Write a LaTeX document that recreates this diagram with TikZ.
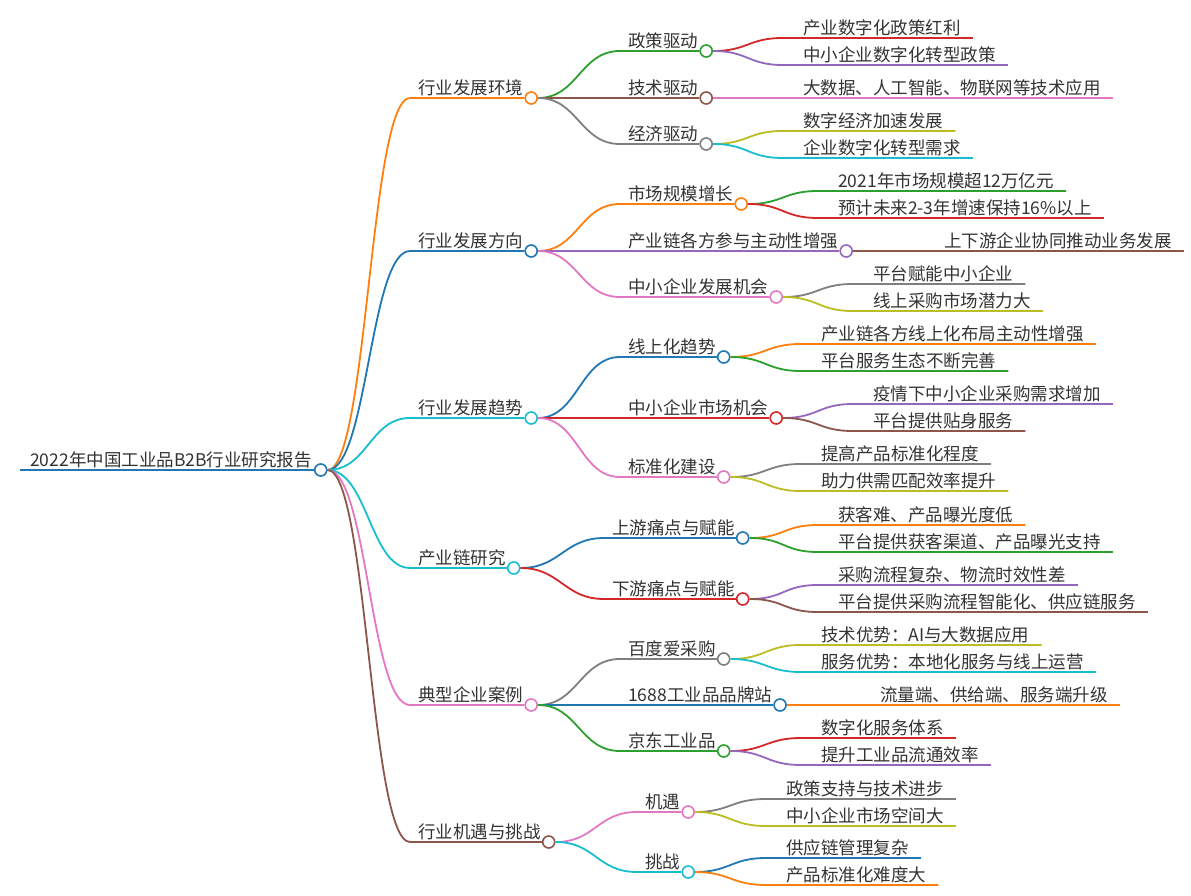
\documentclass[tikz,border=0pt]{standalone}
\usepackage{fontspec}
\setmainfont{Noto Sans CJK SC}
\usepackage{tikz}
\usetikzlibrary{positioning}
\definecolor{cBlue}{HTML}{1F77B4}
\definecolor{cOrange}{HTML}{FF7F0E}
\definecolor{cGreen}{HTML}{2CA02C}
\definecolor{cRed}{HTML}{D62728}
\definecolor{cPurple}{HTML}{9467BD}
\definecolor{cBrown}{HTML}{8C564B}
\definecolor{cPink}{HTML}{E377C2}
\definecolor{cGray}{HTML}{7F7F7F}
\definecolor{cOlive}{HTML}{BCBD22}
\definecolor{cCyan}{HTML}{17BECF}
\definecolor{inkGray}{HTML}{333333}

\begin{document}
\begin{tikzpicture}[
  x=1pt, y=-1pt,
  txt/.style={anchor=south west, inner xsep=0pt, inner ysep=1.5pt, text=inkGray, font=\fontsize{17.5}{20}\selectfont},
  knob/.style={circle, draw=#1, fill=white, line width=1.6pt, minimum size=12pt, inner sep=0pt},
  link/.style={draw=#1, line width=1.8pt},
  sbend/.style={to path={.. controls +(#1,0) and +(-#1,0) .. (\tikztotarget)}},
  sbend/.default=40
]
  \useasboundingbox (0,0) rectangle (1191,896);

  % root
  \node[txt] (t-root) at (30,470) {2022年中国工业品B2B行业研究报告};
  \node[knob=cBlue, right=2pt of t-root.south east] (d-root) {};
  \draw[link=cBlue] ([xshift=-10pt]t-root.south west) -- (d-root.west);

  % first level
  \node[txt] (t-env) at (418,98) {行业发展环境};
  \node[txt] (t-dir) at (418,251) {行业发展方向};
  \node[txt] (t-trend) at (418,418) {行业发展趋势};
  \node[txt] (t-chain) at (418,568) {产业链研究};
  \node[txt] (t-case) at (418,705) {典型企业案例};
  \node[txt] (t-opp) at (418,842) {行业机遇与挑战};
  \node[knob=cOrange, right=1pt of t-env.south east] (d-env) {};
  \node[knob=cBlue, right=1pt of t-dir.south east] (d-dir) {};
  \node[knob=cCyan, right=1pt of t-trend.south east] (d-trend) {};
  \node[knob=cCyan, right=1pt of t-chain.south east] (d-chain) {};
  \node[knob=cPink, right=1pt of t-case.south east] (d-case) {};
  \node[knob=cBrown, right=1pt of t-opp.south east] (d-opp) {};

  \draw[link=cOrange] (d-root.east) to[sbend] ([xshift=-8pt]t-env.south west) -- (d-env.west);
  \draw[link=cBlue] (d-root.east) to[sbend] ([xshift=-8pt]t-dir.south west) -- (d-dir.west);
  \draw[link=cCyan] (d-root.east) to[sbend] ([xshift=-8pt]t-trend.south west) -- (d-trend.west);
  \draw[link=cCyan] (d-root.east) to[sbend] ([xshift=-8pt]t-chain.south west) -- (d-chain.west);
  \draw[link=cPink] (d-root.east) to[sbend] ([xshift=-8pt]t-case.south west) -- (d-case.west);
  \draw[link=cBrown] (d-root.east) to[sbend] ([xshift=-8pt]t-opp.south west) -- (d-opp.west);

  % second level
  \node[txt] (t-pol) at (628,51) {政策驱动};
  \node[txt] (t-tech) at (628,98) {技术驱动};
  \node[txt] (t-eco) at (628,144) {经济驱动};
  \node[txt] (t-scale) at (628,204) {市场规模增长};
  \node[txt] (t-part) at (628,251) {产业链各方参与主动性增强};
  \node[txt] (t-sme) at (628,297) {中小企业发展机会};
  \node[txt] (t-online) at (628,357) {线上化趋势};
  \node[txt] (t-smem) at (628,418) {中小企业市场机会};
  \node[txt] (t-std) at (628,477) {标准化建设};
  \node[txt] (t-up) at (612,538) {上游痛点与赋能};
  \node[txt] (t-down) at (612,599) {下游痛点与赋能};
  \node[txt] (t-baidu) at (628,659) {百度爱采购};
  \node[txt] (t-ali) at (628,705) {1688工业品品牌站};
  \node[txt] (t-jd) at (628,751) {京东工业品};
  \node[txt] (t-chance) at (645,812) {机遇};
  \node[txt] (t-risk) at (645,872) {挑战};
  \node[knob=cGreen, right=1pt of t-pol.south east] (d-pol) {};
  \node[knob=cBrown, right=1pt of t-tech.south east] (d-tech) {};
  \node[knob=cGray, right=1pt of t-eco.south east] (d-eco) {};
  \node[knob=cOrange, right=1pt of t-scale.south east] (d-scale) {};
  \node[knob=cPurple, right=1pt of t-part.south east] (d-part) {};
  \node[knob=cPink, right=1pt of t-sme.south east] (d-sme) {};
  \node[knob=cBlue, right=1pt of t-online.south east] (d-online) {};
  \node[knob=cRed, right=1pt of t-smem.south east] (d-smem) {};
  \node[knob=cPink, right=1pt of t-std.south east] (d-std) {};
  \node[knob=cBlue, right=1pt of t-up.south east] (d-up) {};
  \node[knob=cRed, right=1pt of t-down.south east] (d-down) {};
  \node[knob=cGray, right=1pt of t-baidu.south east] (d-baidu) {};
  \node[knob=cBlue, right=1pt of t-ali.south east] (d-ali) {};
  \node[knob=cGreen, right=1pt of t-jd.south east] (d-jd) {};
  \node[knob=cPink, right=1pt of t-chance.south east] (d-chance) {};
  \node[knob=cCyan, right=1pt of t-risk.south east] (d-risk) {};

  \draw[link=cGreen] (d-env.east) to[sbend] ([xshift=-8pt]t-pol.south west) -- (d-pol.west);
  \draw[link=cBrown] (d-env.east) to[sbend] ([xshift=-8pt]t-tech.south west) -- (d-tech.west);
  \draw[link=cGray] (d-env.east) to[sbend] ([xshift=-8pt]t-eco.south west) -- (d-eco.west);
  \draw[link=cOrange] (d-dir.east) to[sbend] ([xshift=-8pt]t-scale.south west) -- (d-scale.west);
  \draw[link=cPurple] (d-dir.east) to[sbend] ([xshift=-8pt]t-part.south west) -- (d-part.west);
  \draw[link=cPink] (d-dir.east) to[sbend] ([xshift=-8pt]t-sme.south west) -- (d-sme.west);
  \draw[link=cBlue] (d-trend.east) to[sbend] ([xshift=-8pt]t-online.south west) -- (d-online.west);
  \draw[link=cRed] (d-trend.east) to[sbend] ([xshift=-8pt]t-smem.south west) -- (d-smem.west);
  \draw[link=cPink] (d-trend.east) to[sbend] ([xshift=-8pt]t-std.south west) -- (d-std.west);
  \draw[link=cBlue] (d-chain.east) to[sbend] ([xshift=-8pt]t-up.south west) -- (d-up.west);
  \draw[link=cRed] (d-chain.east) to[sbend] ([xshift=-8pt]t-down.south west) -- (d-down.west);
  \draw[link=cGray] (d-case.east) to[sbend] ([xshift=-8pt]t-baidu.south west) -- (d-baidu.west);
  \draw[link=cBlue] (d-case.east) to[sbend] ([xshift=-8pt]t-ali.south west) -- (d-ali.west);
  \draw[link=cGreen] (d-case.east) to[sbend] ([xshift=-8pt]t-jd.south west) -- (d-jd.west);
  \draw[link=cPink] (d-opp.east) to[sbend] ([xshift=-8pt]t-chance.south west) -- (d-chance.west);
  \draw[link=cCyan] (d-opp.east) to[sbend] ([xshift=-8pt]t-risk.south west) -- (d-risk.west);

  % leaves
  \node[txt] (l-pol1) at (803,38) {产业数字化政策红利};
  \node[txt] (l-pol2) at (803,65) {中小企业数字化转型政策};
  \node[txt] (l-tech1) at (803,98) {大数据、人工智能、物联网等技术应用};
  \node[txt] (l-eco1) at (803,131) {数字经济加速发展};
  \node[txt] (l-eco2) at (803,158) {企业数字化转型需求};
  \node[txt] (l-scale1) at (838,191) {2021年市场规模超12万亿元};
  \node[txt] (l-scale2) at (838,218) {预计未来2-3年增速保持16\%以上};
  \node[txt] (l-part1) at (944,251) {上下游企业协同推动业务发展};
  \node[txt] (l-sme1) at (873,284) {平台赋能中小企业};
  \node[txt] (l-sme2) at (873,311) {线上采购市场潜力大};
  \node[txt] (l-online1) at (821,344) {产业链各方线上化布局主动性增强};
  \node[txt] (l-online2) at (821,371) {平台服务生态不断完善};
  \node[txt] (l-smem1) at (873,404) {疫情下中小企业采购需求增加};
  \node[txt] (l-smem2) at (873,431) {平台提供贴身服务};
  \node[txt] (l-std1) at (821,464) {提高产品标准化程度};
  \node[txt] (l-std2) at (821,491) {助力供需匹配效率提升};
  \node[txt] (l-up1) at (838,525) {获客难、产品曝光度低};
  \node[txt] (l-up2) at (838,552) {平台提供获客渠道、产品曝光支持};
  \node[txt] (l-down1) at (838,585) {采购流程复杂、物流时效性差};
  \node[txt] (l-down2) at (838,612) {平台提供采购流程智能化、供应链服务};
  \node[txt] (l-baidu1) at (821,645) {技术优势：AI与大数据应用};
  \node[txt] (l-baidu2) at (821,672) {服务优势：本地化服务与线上运营};
  \node[txt] (l-ali1) at (880,705) {流量端、供给端、服务端升级};
  \node[txt] (l-jd1) at (821,738) {数字化服务体系};
  \node[txt] (l-jd2) at (821,765) {提升工业品流通效率};
  \node[txt] (l-chance1) at (786,799) {政策支持与技术进步};
  \node[txt] (l-chance2) at (786,826) {中小企业市场空间大};
  \node[txt] (l-risk1) at (786,858) {供应链管理复杂};
  \node[txt] (l-risk2) at (786,885) {产品标准化难度大};

  \draw[link=cRed] (d-pol.east) to[sbend=35] ([xshift=-20pt]l-pol1.south west) -- ([xshift=12pt]l-pol1.south east);
  \draw[link=cPurple] (d-pol.east) to[sbend=35] ([xshift=-20pt]l-pol2.south west) -- ([xshift=12pt]l-pol2.south east);
  \draw[link=cPink] (d-tech.east) -- ([xshift=12pt]l-tech1.south east);
  \draw[link=cOlive] (d-eco.east) to[sbend=35] ([xshift=-20pt]l-eco1.south west) -- ([xshift=12pt]l-eco1.south east);
  \draw[link=cCyan] (d-eco.east) to[sbend=35] ([xshift=-20pt]l-eco2.south west) -- ([xshift=12pt]l-eco2.south east);
  \draw[link=cGreen] (d-scale.east) to[sbend=35] ([xshift=-20pt]l-scale1.south west) -- ([xshift=12pt]l-scale1.south east);
  \draw[link=cRed] (d-scale.east) to[sbend=35] ([xshift=-20pt]l-scale2.south west) -- ([xshift=12pt]l-scale2.south east);
  \draw[link=cBrown] (d-part.east) -- ([xshift=12pt]l-part1.south east);
  \draw[link=cGray] (d-sme.east) to[sbend=35] ([xshift=-20pt]l-sme1.south west) -- ([xshift=12pt]l-sme1.south east);
  \draw[link=cOlive] (d-sme.east) to[sbend=35] ([xshift=-20pt]l-sme2.south west) -- ([xshift=12pt]l-sme2.south east);
  \draw[link=cOrange] (d-online.east) to[sbend=35] ([xshift=-20pt]l-online1.south west) -- ([xshift=12pt]l-online1.south east);
  \draw[link=cGreen] (d-online.east) to[sbend=35] ([xshift=-20pt]l-online2.south west) -- ([xshift=12pt]l-online2.south east);
  \draw[link=cPurple] (d-smem.east) to[sbend=35] ([xshift=-20pt]l-smem1.south west) -- ([xshift=12pt]l-smem1.south east);
  \draw[link=cBrown] (d-smem.east) to[sbend=35] ([xshift=-20pt]l-smem2.south west) -- ([xshift=12pt]l-smem2.south east);
  \draw[link=cGray] (d-std.east) to[sbend=35] ([xshift=-20pt]l-std1.south west) -- ([xshift=12pt]l-std1.south east);
  \draw[link=cOlive] (d-std.east) to[sbend=35] ([xshift=-20pt]l-std2.south west) -- ([xshift=12pt]l-std2.south east);
  \draw[link=cOrange] (d-up.east) to[sbend=35] ([xshift=-20pt]l-up1.south west) -- ([xshift=12pt]l-up1.south east);
  \draw[link=cGreen] (d-up.east) to[sbend=35] ([xshift=-20pt]l-up2.south west) -- ([xshift=12pt]l-up2.south east);
  \draw[link=cPurple] (d-down.east) to[sbend=35] ([xshift=-20pt]l-down1.south west) -- ([xshift=12pt]l-down1.south east);
  \draw[link=cBrown] (d-down.east) to[sbend=35] ([xshift=-20pt]l-down2.south west) -- ([xshift=12pt]l-down2.south east);
  \draw[link=cOlive] (d-baidu.east) to[sbend=35] ([xshift=-20pt]l-baidu1.south west) -- ([xshift=12pt]l-baidu1.south east);
  \draw[link=cCyan] (d-baidu.east) to[sbend=35] ([xshift=-20pt]l-baidu2.south west) -- ([xshift=12pt]l-baidu2.south east);
  \draw[link=cOrange] (d-ali.east) -- ([xshift=12pt]l-ali1.south east);
  \draw[link=cRed] (d-jd.east) to[sbend=35] ([xshift=-20pt]l-jd1.south west) -- ([xshift=12pt]l-jd1.south east);
  \draw[link=cPurple] (d-jd.east) to[sbend=35] ([xshift=-20pt]l-jd2.south west) -- ([xshift=12pt]l-jd2.south east);
  \draw[link=cGray] (d-chance.east) to[sbend=35] ([xshift=-20pt]l-chance1.south west) -- ([xshift=12pt]l-chance1.south east);
  \draw[link=cOlive] (d-chance.east) to[sbend=35] ([xshift=-20pt]l-chance2.south west) -- ([xshift=12pt]l-chance2.south east);
  \draw[link=cBlue] (d-risk.east) to[sbend=35] ([xshift=-20pt]l-risk1.south west) -- ([xshift=12pt]l-risk1.south east);
  \draw[link=cOrange] (d-risk.east) to[sbend=35] ([xshift=-20pt]l-risk2.south west) -- ([xshift=12pt]l-risk2.south east);
\end{tikzpicture}
\end{document}
